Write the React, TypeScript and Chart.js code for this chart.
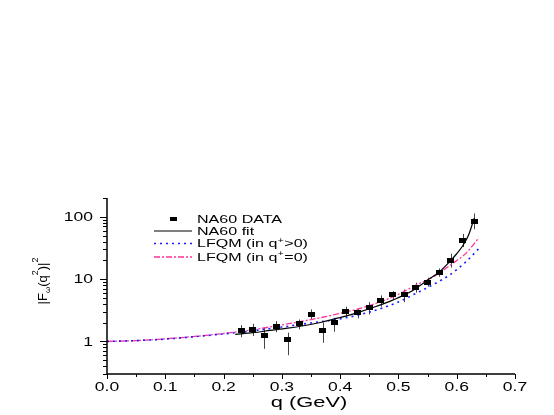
import React, { useEffect, useRef } from "react";
import { Chart, registerables } from "chart.js";

Chart.register(...registerables);

// ---- data ----
const qData = [0.23, 0.25, 0.27, 0.29, 0.31, 0.33, 0.35, 0.37, 0.39, 0.41, 0.43, 0.45, 0.47, 0.49, 0.51, 0.53, 0.55, 0.57, 0.59, 0.61, 0.63];
const fData = [1.5, 1.56, 1.25, 1.76, 1.08, 1.92, 2.71, 1.48, 2.0, 3.0, 2.89, 3.55, 4.55, 5.68, 5.6, 7.4, 8.94, 12.7, 20.2, 41.8, 85];
const errHigh = [1.83, 1.92, 1.66, 2.12, 1.38, 2.25, 3.26, 2.0, 2.4, 3.6, 3.39, 4.27, 5.47, 6.4, 6.8, 8.75, 10.5, 14.8, 25.6, 53, 113];
const errLow = [1.17, 1.22, 0.76, 1.41, 0.6, 1.56, 2.2, 0.95, 1.43, 2.49, 2.34, 2.71, 3.6, 4.7, 4.27, 6.05, 7.56, 10.9, 15.3, 32.6, 63];

const fitQ = [0.22, 0.25, 0.28, 0.31, 0.34, 0.37, 0.4, 0.43, 0.46, 0.49, 0.52, 0.55, 0.57, 0.59, 0.6, 0.61, 0.62, 0.63];
const fitF = [1.3, 1.38, 1.5, 1.63, 1.8, 2.05, 2.42, 2.9, 3.6, 4.6, 6.2, 9.6, 13.0, 20, 25.5, 34, 50, 95];

const curveQ = [0, 0.05, 0.1, 0.15, 0.2, 0.25, 0.3, 0.35, 0.4, 0.45, 0.5, 0.53, 0.56, 0.59, 0.617, 0.638];
const lfqmPos = [1.0, 1.03, 1.09, 1.19, 1.32, 1.48, 1.7, 1.98, 2.3, 2.95, 4.3, 5.9, 8.2, 12.0, 19.4, 31];
const lfqmZero = [1.0, 1.03, 1.1, 1.2, 1.34, 1.54, 1.84, 2.24, 2.82, 3.75, 5.7, 8.0, 10.9, 17, 26.6, 46];

const xTicks = [0, 0.1, 0.2, 0.3, 0.4, 0.5, 0.6, 0.7];
const xTickLabels = ["0.0", "0.1", "0.2", "0.3", "0.4", "0.5", "0.6", "0.7"];
const yTicks = [1, 10, 100];
const yTickLabels = ["1", "10", "100"];

const seriesLabels = ["NA60 DATA", "NA60 fit", "LFQM (in q", "LFQM (in q"];
const seriesSuffix = ["", "", ">0)", "=0)"];

const FONT = '"Liberation Sans", Arial, sans-serif';
const SX = 1.46;

function sText(ctx: CanvasRenderingContext2D, text: string, x: number, y: number, size: number, align: string, sx = SX) {
  ctx.save();
  ctx.font = `${size}px ${FONT}`;
  ctx.textBaseline = "alphabetic";
  ctx.textAlign = "left";
  const w = ctx.measureText(text).width * sx;
  const left = align === "center" ? x - w / 2 : align === "right" ? x - w : x;
  ctx.translate(left, y);
  ctx.scale(sx, 1);
  ctx.fillStyle = "#000";
  ctx.fillText(text, 0, 0);
  ctx.restore();
  return w;
}

function makeRect(w: number, h: number) {
  const c = document.createElement("canvas");
  c.width = w;
  c.height = h;
  const g = c.getContext("2d")!;
  g.fillStyle = "#000";
  g.fillRect(0, 0, w, h);
  return c;
}

const decorPlugin = {
  id: "decor",
  beforeDatasetsDraw(chart: any) {
    const ctx: CanvasRenderingContext2D = chart.ctx;
    const xs = chart.scales.x;
    const ys = chart.scales.y;
    ctx.save();
    ctx.strokeStyle = "#444";
    ctx.lineWidth = 1;
    for (let i = 0; i < qData.length; i++) {
      const px = Math.round(xs.getPixelForValue(qData[i])) + 0.5;
      ctx.beginPath();
      ctx.moveTo(px, ys.getPixelForValue(errHigh[i]));
      ctx.lineTo(px, ys.getPixelForValue(errLow[i]));
      ctx.stroke();
    }
    ctx.restore();
  },
  afterDraw(chart: any) {
    const ctx: CanvasRenderingContext2D = chart.ctx;
    const xs = chart.scales.x;
    const ys = chart.scales.y;
    const a = chart.chartArea;
    ctx.save();
    ctx.strokeStyle = "#000";
    ctx.lineWidth = 1.5;
    ctx.beginPath();
    ctx.moveTo(a.left, a.top);
    ctx.lineTo(a.left, a.bottom);
    ctx.lineTo(a.right, a.bottom);
    ctx.stroke();
    ctx.lineWidth = 1;
    for (let v = 0; v <= 0.7001; v += 0.05) {
      const px = Math.round(xs.getPixelForValue(v)) + 0.5;
      const major = Math.abs(Math.round(v * 10) - v * 10) < 1e-6;
      ctx.beginPath();
      ctx.moveTo(px, a.bottom);
      ctx.lineTo(px, a.bottom + (major ? 5 : 3));
      ctx.stroke();
    }
    for (let d = 0.1; d <= 100; d *= 10) {
      for (let m = 1; m <= 9; m++) {
        const v = d * m;
        if (v < 0.3 - 1e-9 || v > 200 + 1e-9) continue;
        const py = Math.round(ys.getPixelForValue(v)) + 0.5;
        const major = m === 1;
        ctx.beginPath();
        ctx.moveTo(a.left, py);
        ctx.lineTo(a.left - (major ? 7 : 4), py);
        ctx.stroke();
      }
    }
    const py200 = Math.round(ys.getPixelForValue(200)) + 0.5;
    ctx.beginPath();
    ctx.moveTo(a.left, py200);
    ctx.lineTo(a.left - 4, py200);
    ctx.stroke();
    ctx.restore();

    xTicks.forEach((v, i) => {
      sText(ctx, xTickLabels[i], xs.getPixelForValue(v), 391, 12, "center");
    });
    yTicks.forEach((v, i) => {
      sText(ctx, yTickLabels[i], 93, ys.getPixelForValue(v) + 4.3, 12, "right");
    });

    sText(ctx, "q (GeV)", 309, 407, 15, "center");

    // y title (rotated)
    ctx.save();
    ctx.translate(47, 281);
    ctx.rotate(-Math.PI / 2);
    ctx.scale(1, 0.95);
    ctx.fillStyle = "#000";
    ctx.textBaseline = "alphabetic";
    ctx.textAlign = "left";
    const pieces: [string, number, number][] = [
      ["|F", 13, 0],
      ["\u03C9", 8, 3],
      ["(q", 13, 0],
      ["2", 9, -10],
      [")|", 13, 0],
      ["2", 9, -10],
    ];
    let total = 0;
    pieces.forEach(([t, s]) => {
      ctx.font = `${s}px ${FONT}`;
      total += ctx.measureText(t).width;
    });
    let cx = -total / 2;
    pieces.forEach(([t, s, dy]) => {
      ctx.font = `${s}px ${FONT}`;
      ctx.fillText(t, cx, dy);
      cx += ctx.measureText(t).width;
    });
    ctx.restore();

    // legend
    const rows = [219, 231, 243.5, 257];
    const lx0 = 154, lx1 = 192, tx = 197;
    ctx.save();
    ctx.fillStyle = "#000";
    ctx.fillRect(170, rows[0] - 2, 7, 4);
    ctx.strokeStyle = "#000";
    ctx.lineWidth = 1.2;
    ctx.beginPath();
    ctx.moveTo(lx0, rows[1]);
    ctx.lineTo(lx1, rows[1]);
    ctx.stroke();
    ctx.strokeStyle = "#1a1aff";
    ctx.lineWidth = 1.5;
    ctx.setLineDash([2, 4]);
    ctx.beginPath();
    ctx.moveTo(lx0, rows[2]);
    ctx.lineTo(lx1, rows[2]);
    ctx.stroke();
    ctx.strokeStyle = "#ff3399";
    ctx.lineWidth = 1.3;
    ctx.setLineDash([6, 2, 2, 2]);
    ctx.beginPath();
    ctx.moveTo(lx0, rows[3]);
    ctx.lineTo(lx1, rows[3]);
    ctx.stroke();
    ctx.restore();

    seriesLabels.forEach((lab, i) => {
      const base = rows[i] + 3.9;
      const w = sText(ctx, lab, tx, base, 11, "left");
      if (seriesSuffix[i]) {
        const w2 = sText(ctx, "+", tx + w + 0.5, base - 4.5, 7, "left");
        sText(ctx, seriesSuffix[i], tx + w + w2 + 1, base, 11, "left");
      }
    });
  },
};

export default function App() {
  const ref = useRef<HTMLCanvasElement | null>(null);
  useEffect(() => {
    if (!ref.current) return;
    const marker = makeRect(7, 5);
    const chart = new Chart(ref.current, {
      type: "scatter",
      data: {
        datasets: [
          {
            label: "NA60 DATA",
            data: qData.map((q, i) => ({ x: q, y: fData[i] })),
            pointStyle: marker as any,
            pointRadius: 4,
            showLine: false,
          },
          {
            label: "NA60 fit",
            data: fitQ.map((q, i) => ({ x: q, y: fitF[i] })),
            showLine: true,
            borderColor: "#000",
            borderWidth: 1.2,
            pointRadius: 0,
            cubicInterpolationMode: "monotone",
          } as any,
          {
            label: "LFQM (in q+>0)",
            data: curveQ.map((q, i) => ({ x: q, y: lfqmPos[i] })),
            showLine: true,
            borderColor: "#1a1aff",
            borderWidth: 1.6,
            borderDash: [2, 4],
            pointRadius: 0,
            cubicInterpolationMode: "monotone",
          } as any,
          {
            label: "LFQM (in q+=0)",
            data: curveQ.map((q, i) => ({ x: q, y: lfqmZero[i] })),
            showLine: true,
            borderColor: "#ff3399",
            borderWidth: 1.3,
            borderDash: [6, 2, 2, 2],
            pointRadius: 0,
            cubicInterpolationMode: "monotone",
          } as any,
        ],
      },
      options: {
        animation: false,
        responsive: true,
        maintainAspectRatio: false,
        layout: { padding: { left: 107, right: 39, top: 198, bottom: 41 } },
        plugins: { legend: { display: false }, tooltip: { enabled: false } },
        scales: {
          x: { type: "linear", min: 0, max: 0.7, display: false },
          y: { type: "logarithmic", min: 0.3, max: 200, display: false },
        },
      },
      plugins: [decorPlugin],
    });
    return () => chart.destroy();
  }, []);
  return (
    <div style={{ position: "absolute", left: 0, top: 0, width: 554, height: 415, background: "#fff" }}>
      <canvas ref={ref} />
    </div>
  );
}
